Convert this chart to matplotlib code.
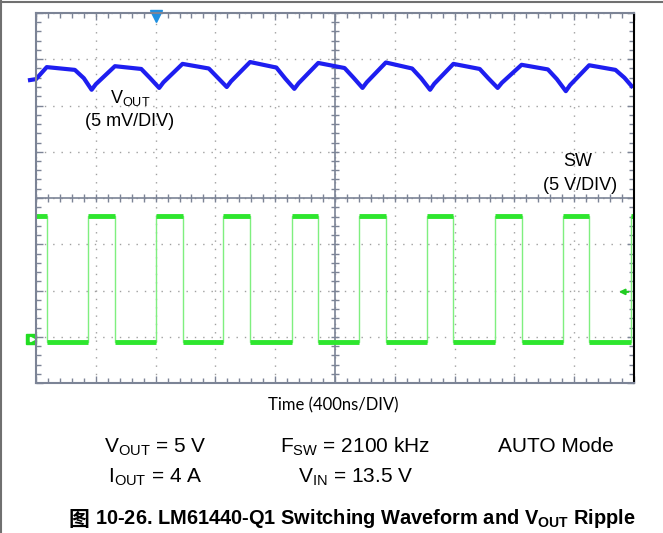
import matplotlib.pyplot as plt
from matplotlib.lines import Line2D

plt.rcParams['font.family'] = ['Liberation Sans', 'DejaVu Sans']
plt.rcParams['mathtext.fontset'] = 'custom'
plt.rcParams['mathtext.rm'] = 'Liberation Sans'
plt.rcParams['mathtext.bf'] = 'Liberation Sans:bold'

# scope screen: 10 x 8 divisions, values read in divisions
vout_t = [-0.10, 0.00, 0.18, 0.65, 0.80, 0.93, 1.00, 1.32, 1.76, 1.91, 2.06, 2.13,
          2.45, 2.89, 3.04, 3.19, 3.26, 3.58, 4.02, 4.17, 4.32, 4.39, 4.72, 5.16,
          5.31, 5.46, 5.53, 5.85, 6.29, 6.44, 6.59, 6.66, 6.98, 7.42, 7.57, 7.72,
          7.79, 8.12, 8.56, 8.71, 8.86, 8.93, 9.25, 9.69, 9.84, 9.96]
vout_v = [2.55, 2.57, 2.83, 2.77, 2.59, 2.34, 2.46, 2.85, 2.79, 2.59, 2.38, 2.50,
          2.90, 2.80, 2.60, 2.40, 2.52, 2.94, 2.82, 2.58, 2.36, 2.48, 2.92, 2.81,
          2.60, 2.38, 2.50, 2.93, 2.80, 2.59, 2.34, 2.47, 2.90, 2.79, 2.58, 2.38,
          2.49, 2.88, 2.78, 2.57, 2.31, 2.44, 2.87, 2.77, 2.60, 2.42]

sw_fall = [0.184, 1.321, 2.453, 3.579, 4.721, 5.848, 6.978, 8.122, 9.253]
sw_rise = [0.875, 2.007, 3.132, 4.276, 5.406, 6.533, 7.676, 8.808, 9.950]
sw_high = -0.39
sw_low = -3.11

W, H = 663, 533
fig = plt.figure(figsize=(W / 100, H / 100), dpi=100)
ax = fig.add_axes([36 / W, 1 - 383 / H, (634 - 36) / W, (383 - 13) / H])
ax.set_xlim(0, 10)
ax.set_ylim(-4, 4)

grid_c = '#7c8496'
for s in ['top', 'bottom', 'left']:
    ax.spines[s].set_color(grid_c)
    ax.spines[s].set_linewidth(1.5)
ax.spines['right'].set_color('black')
ax.spines['right'].set_linewidth(1.5)

ax.set_xticks(range(0, 11))
ax.set_yticks(range(-4, 5))
ax.set_xticks([i * 0.2 for i in range(51)], minor=True)
ax.set_yticks([i * 0.2 - 4 for i in range(41)], minor=True)
ax.tick_params(which='both', direction='in', top=True, right=True, color=grid_c,
               labelbottom=False, labelleft=False, width=1)
ax.tick_params(which='major', length=5)
ax.tick_params(which='minor', length=3.5)
ax.grid(True, which='major', color='#a0a0a0', linestyle=(0, (1, 5)), linewidth=1)

# center crosshair
ax.axhline(0, color=grid_c, lw=1.2)
ax.axvline(5, color=grid_c, lw=1.2)
ax.plot([i * 0.2 for i in range(51)], [0] * 51, ls='none', marker='|', ms=6, mew=1, color=grid_c)
ax.plot([5] * 41, [i * 0.2 - 4 for i in range(41)], ls='none', marker='_', ms=6, mew=1, color=grid_c)

# SW trace
edges = sorted([(t, 'f') for t in sw_fall] + [(t, 'r') for t in sw_rise])
xs, ys = [0], [sw_high]
level = sw_high
for t, kind in edges:
    xs.append(t); ys.append(level)
    level = sw_low if kind == 'f' else sw_high
    xs.append(t); ys.append(level)
xs.append(10); ys.append(level)
ax.plot(xs, ys, color='#7fef7f', lw=1)
for i in range(0, len(xs) - 1, 2):
    ax.hlines(ys[i], xs[i], xs[i + 1], color='#2ee62e', lw=3.5)

# VOUT trace
ax.plot(vout_t, vout_v, color='#1e1ef0', lw=3, clip_on=False)

# scope markers
ax.plot([2.0], [3.93], marker='v', ms=8, color='#1f90e0', clip_on=False)
ax.plot([-0.08], [-3.05], marker='s', ms=7, color='#22dd22', clip_on=False)
ax.plot([-0.07], [-3.05], marker='>', ms=3, color='white', clip_on=False)
ax.annotate('', xy=(9.7, -2.03), xytext=(9.95, -2.03),
            arrowprops=dict(arrowstyle='-|>', color='#22cc22', lw=1.5, mutation_scale=8))

def px(x, y):
    return x / W, 1 - y / H

fig.text(*px(130, 98), r'V$_{\mathrm{OUT}}$', fontsize=13, ha='center', va='center')
fig.text(*px(130, 121), '(5 mV/DIV)', fontsize=13, ha='center', va='center')
fig.text(*px(578, 162), 'SW', fontsize=13, ha='center', va='center')
fig.text(*px(580, 185), '(5 V/DIV)', fontsize=13, ha='center', va='center')

fig.text(*px(333, 405), 'Time (400ns/DIV)', fontsize=12, family='Lato', ha='center', va='center')

fig.text(*px(155, 447), r'V$_{\mathrm{OUT}}$ = 5 V', fontsize=15, ha='center', va='center')
fig.text(*px(355, 447), r'F$_{\mathrm{SW}}$ = 2100 kHz', fontsize=15, ha='center', va='center')
fig.text(*px(556, 447), 'AUTO Mode', fontsize=15, ha='center', va='center')
fig.text(*px(155, 477), r'I$_{\mathrm{OUT}}$ = 4 A', fontsize=15, ha='center', va='center')
fig.text(*px(356, 477), r'V$_{\mathrm{IN}}$ = 13.5 V', fontsize=15, ha='center', va='center')

fig.text(*px(69, 519), '图', fontsize=15, family=['Noto Sans CJK SC'], fontweight='bold',
         ha='left', va='center')
fig.text(*px(95, 519), r'10-26. LM61440-Q1 Switching Waveform and $\mathbf{V_{OUT}}$ Ripple',
         fontsize=14.4, fontweight='bold', ha='left', va='center')

# outer frame
fig.add_artist(Line2D([0, 1], [1 - 2 / H] * 2, transform=fig.transFigure, color='#707070', lw=1.5))
fig.add_artist(Line2D([1 / W] * 2, [0, 1], transform=fig.transFigure, color='#707070', lw=1.5))

fig.savefig('out.png', dpi=100)
